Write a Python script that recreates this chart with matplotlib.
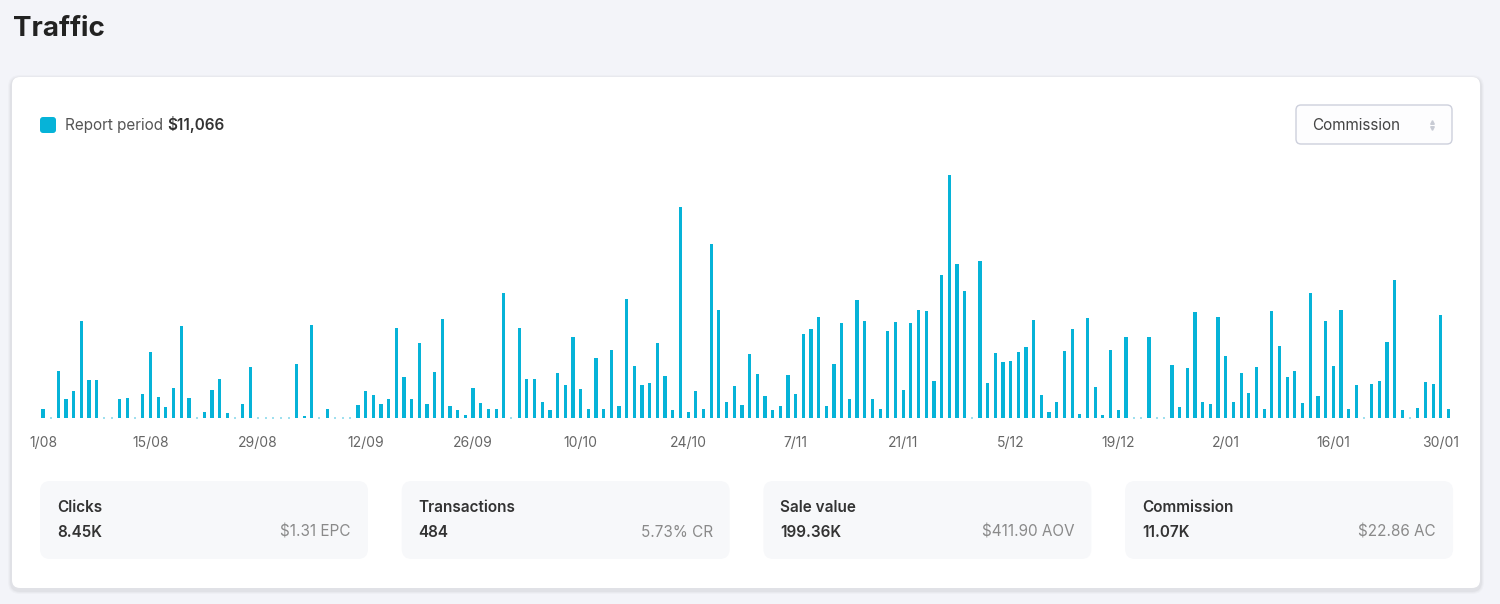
import matplotlib
matplotlib.use("Agg")
import matplotlib.pyplot as plt
from matplotlib.patches import FancyBboxPatch
import numpy as np

# ---------------- data ----------------
commission = [
    11, 0, 64, 25, 36, 132, 52, 52, 0, 0,          # 1/08 - 10/08
    26, 27, 0, 32, 90, 28, 15, 41, 125, 27,        # 11/08 - 20/08
    0, 8, 38, 53, 6, 0, 19, 69, 0, 0,              # 21/08 - 30/08
    0, 0, 0, 73, 2, 127, 0, 11, 0, 0,              # 31/08 - 9/09
    0, 17, 36, 31, 18, 25, 123, 56, 26, 102,       # 10/09 - 19/09
    19, 63, 135, 16, 10, 4, 41, 20, 11, 11,        # 20/09 - 29/09
    171, 0, 123, 53, 53, 21, 10, 61, 44, 110,      # 30/09 - 9/10
    39, 11, 81, 12, 92, 16, 162, 70, 44, 47,       # 10/10 - 19/10
    102, 57, 10, 288, 8, 37, 11, 238, 147, 21,     # 20/10 - 29/10
    43, 17, 87, 59, 30, 10, 16, 58, 32, 114,       # 30/10 - 8/11
    122, 138, 16, 73, 130, 26, 161, 132, 26, 11,   # 9/11 - 18/11
    118, 131, 38, 130, 147, 146, 50, 196, 332, 211,  # 19/11 - 28/11
    174, 0, 215, 47, 88, 76, 77, 90, 96, 134,      # 29/11 - 8/12
    31, 7, 21, 91, 122, 5, 136, 42, 3, 92,         # 9/12 - 18/12
    10, 110, 0, 0, 110, 0, 0, 72, 14, 68,          # 19/12 - 28/12
    144, 21, 19, 138, 84, 21, 61, 34, 69, 11,      # 29/12 - 7/01
    146, 98, 55, 64, 20, 171, 29, 132, 71, 147,    # 8/01 - 17/01
    11, 44, 0, 46, 50, 103, 189, 10, 0, 13,        # 18/01 - 27/01
    49, 46, 140, 11,                               # 28/01 - 31/01
]
tick_labels = ["1/08", "15/08", "29/08", "12/09", "26/09", "10/10", "24/10",
               "7/11", "21/11", "5/12", "19/12", "2/01", "16/01", "30/01"]
card_titles = ["Clicks", "Transactions", "Sale value", "Commission"]
card_values = ["8.45K", "484", "199.36K", "11.07K"]
card_notes = ["$1.31 EPC", "5.73% CR", "$411.90 AOV", "$22.86 AC"]
report_label = "Report period"
report_total = "$11,066"
metric_option = "Commission"
title = "Traffic"

# ---------------- style ----------------
plt.rcParams['font.family'] = ["Inter", "DejaVu Sans"]
BAR = "#06B3D8"
ZERO = "#9FE0EF"
W, H = 1500, 604

fig = plt.figure(figsize=(15, 6.04), dpi=100)
fig.patch.set_facecolor("#F3F4F9")
bg = fig.add_axes([0, 0, 1, 1])
bg.set_xlim(0, W)
bg.set_ylim(H, 0)
bg.axis('off')


def rbox(x0, y0, x1, y1, r, fc, ec='none', lw=0, z=1, alpha=1.0):
    p = FancyBboxPatch((x0 + r, y0 + r), (x1 - x0 - 2 * r), (y1 - y0 - 2 * r),
                       boxstyle=f"round,pad={r},rounding_size={r}",
                       fc=fc, ec=ec, lw=lw, zorder=z, alpha=alpha)
    bg.add_patch(p)
    return p


# title
bg.text(13, 36, title, fontsize=20, fontweight='bold', color='#222222', va='baseline', ha='left')

# white panel with soft shadow
for i, a in enumerate([0.018, 0.022, 0.03]):
    d = 4 - i
    rbox(12 - d, 77 - d + 2, 1480 + d, 588 + d + 2, 8 + d, fc='#000000', z=0.5, alpha=a)
rbox(12, 77, 1480, 588, 8, fc='#FFFFFF', z=1)

# legend
rbox(40, 117, 56, 133, 3, fc=BAR, z=2)
t1 = bg.text(65, 130, report_label, fontsize=11, color='#555555', va='baseline', ha='left', zorder=3)
fig.canvas.draw()
bb = t1.get_window_extent()
x_end = bg.transData.inverted().transform((bb.x1, 0))[0]
bg.text(x_end + 4, 130, report_total, fontsize=11, fontweight='semibold', color='#333333',
        va='baseline', ha='left', zorder=3)

# dropdown
rbox(1296, 105, 1452, 144, 5, fc='#FDFDFE', ec='#CDD0DC', lw=1.0, z=2)
bg.text(1312, 129.5, metric_option, fontsize=11, color='#444444', va='baseline', ha='left', zorder=3)
bg.plot([1432], [121.5], marker='^', ms=2.6, color='#C8CBD4', ls='none', zorder=3)
bg.plot([1432], [127.5], marker='v', ms=2.6, color='#C8CBD4', ls='none', zorder=3)

# cards
for k in range(4):
    x0 = 40 + k * 361.7
    rbox(x0, 481, x0 + 328, 559, 10, fc='#F7F8FA', z=2)
    bg.text(x0 + 17, 512, card_titles[k], fontsize=11, fontweight='semibold', color='#333333',
            va='baseline', ha='left', zorder=3)
    bg.text(x0 + 17, 537, card_values[k], fontsize=11, fontweight='semibold', color='#333333',
            va='baseline', ha='left', zorder=3)
    bg.text(x0 + 311, 537, card_notes[k], fontsize=11, color='#8A8A8A',
            va='baseline', ha='right', zorder=3)

# ---------------- bar chart ----------------
ax = fig.add_axes([30 / W, 1 - 417.5 / H, 1430 / W, 257.5 / H])
ax.patch.set_alpha(0)
vals = np.array(commission, dtype=float)
x = np.arange(len(vals))
ax.bar(x, vals, width=0.42, color=BAR, zorder=2)
zero_x = x[vals == 0]
ax.plot(zero_x, np.zeros_like(zero_x, dtype=float), ls='none', marker='s', ms=2.0,
        mew=0, color=ZERO, clip_on=False, zorder=2)
ax.set_xlim(-1.693, 184.5)
ax.set_ylim(0, 353)
for s in ax.spines.values():
    s.set_visible(False)
ax.set_yticks([])
ax.set_xticks(np.arange(0, len(vals), 14)[:len(tick_labels)])
ax.set_xticklabels(tick_labels)
ax.tick_params(axis='x', length=0, pad=13, labelsize=10, labelcolor='#666666')

fig.savefig("out.png", dpi=100, facecolor=fig.get_facecolor())
